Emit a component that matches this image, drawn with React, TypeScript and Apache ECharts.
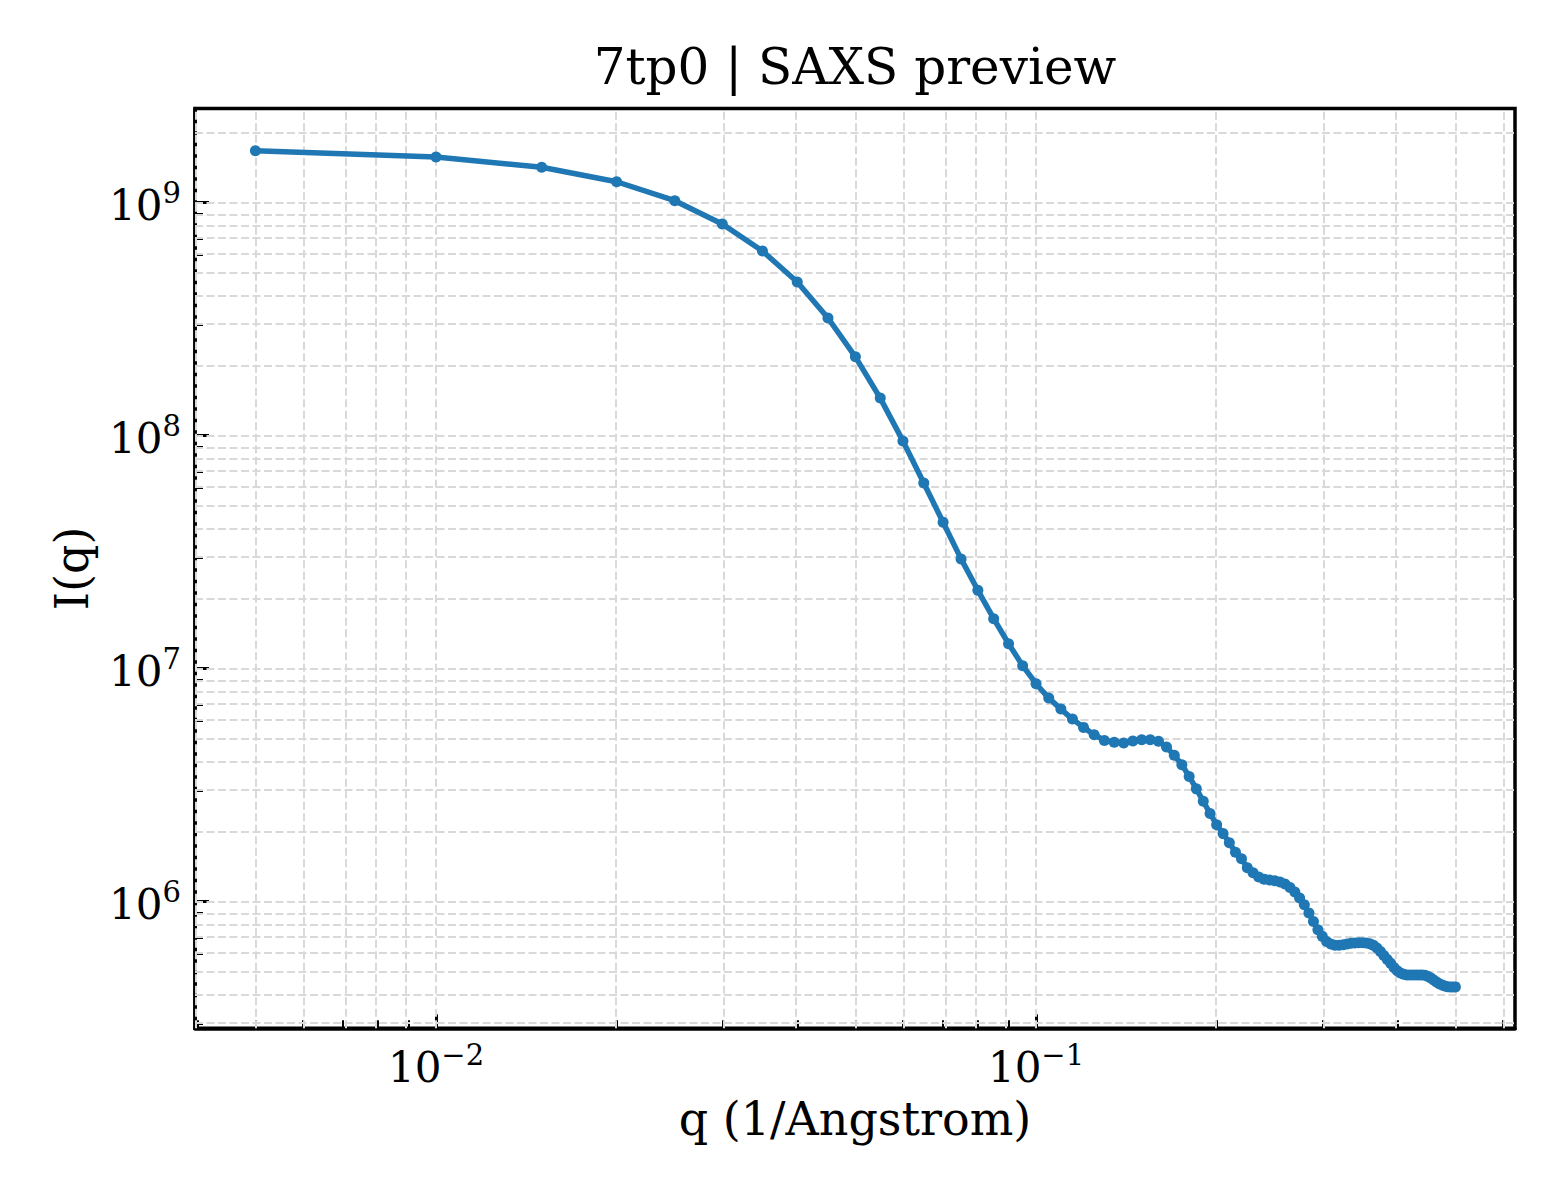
import { useEffect, useRef } from "react";
import * as echarts from "echarts";

// scattering vector q (1/Angstrom)
const qValues = [
  0.005, 0.01, 0.015, 0.02, 0.025, 0.03, 0.035, 0.04, 0.045, 0.05,
  0.055, 0.06, 0.065, 0.07, 0.075, 0.08, 0.085, 0.09, 0.095, 0.1,
  0.105, 0.11, 0.115, 0.12, 0.125, 0.13, 0.135, 0.14, 0.145, 0.15,
  0.155, 0.16, 0.165, 0.17, 0.175, 0.18, 0.185, 0.19, 0.195, 0.2,
  0.205, 0.21, 0.215, 0.22, 0.225, 0.23, 0.235, 0.24, 0.245, 0.25,
  0.255, 0.26, 0.265, 0.27, 0.275, 0.28, 0.285, 0.29, 0.295, 0.3,
  0.305, 0.31, 0.315, 0.32, 0.325, 0.33, 0.335, 0.34, 0.345, 0.35,
  0.355, 0.36, 0.365, 0.37, 0.375, 0.38, 0.385, 0.39, 0.395, 0.4,
  0.405, 0.41, 0.415, 0.42, 0.425, 0.43, 0.435, 0.44, 0.445, 0.45,
  0.455, 0.46, 0.465, 0.47, 0.475, 0.48, 0.485, 0.49, 0.495, 0.5,
];

// scattered intensity I(q)
const intensity = [
  1.67e9, 1.57e9, 1.42e9, 1.23e9, 1.02e9, 8.1e8, 6.2e8, 4.57e8, 3.2e8, 2.18e8,
  1.45e8, 9.5e7, 6.27e7, 4.25e7, 2.96e7, 2.17e7, 1.64e7, 1.28e7, 1.03e7, 8.62e6,
  7.48e6, 6.71e6, 6.08e6, 5.6e6, 5.21e6, 4.92e6, 4.83e6, 4.8e6, 4.89e6, 4.96e6,
  4.96e6, 4.88e6, 4.61e6, 4.25e6, 3.87e6, 3.45e6, 3.05e6, 2.7e6, 2.39e6, 2.14e6,
  1.96e6, 1.79e6, 1.63e6, 1.53e6, 1.4e6, 1.33e6, 1.276e6, 1.25e6, 1.239e6, 1.23e6,
  1.214e6, 1.19e6, 1.152e6, 1.1e6, 1.037e6, 9.71e5, 8.94e5, 8.23e5, 7.58e5, 7.1e5,
  6.75e5, 6.58e5, 6.5e5, 6.5e5, 6.54e5, 6.58e5, 6.63e5, 6.65e5, 6.67e5, 6.67e5,
  6.65e5, 6.6e5, 6.5e5, 6.33e5, 6.12e5, 5.88e5, 5.65e5, 5.44e5, 5.22e5, 5.06e5,
  4.94e5, 4.88e5, 4.85e5, 4.85e5, 4.85e5, 4.85e5, 4.85e5, 4.85e5, 4.83e5, 4.78e5,
  4.7e5, 4.61e5, 4.52e5, 4.45e5, 4.39e5, 4.35e5, 4.32e5, 4.31e5, 4.31e5, 4.31e5,
];

const xMajorTicks = [0.01, 0.1];
const xMinorTicks = [
  0.004, 0.005, 0.006, 0.007, 0.008, 0.009,
  0.02, 0.03, 0.04, 0.05, 0.06, 0.07, 0.08, 0.09,
  0.2, 0.3, 0.4, 0.5, 0.6,
];
const yMajorTicks = [1e6, 1e7, 1e8, 1e9];
const yMinorTicks = [
  3e5, 4e5, 5e5, 6e5, 7e5, 8e5, 9e5,
  2e6, 3e6, 4e6, 5e6, 6e6, 7e6, 8e6, 9e6,
  2e7, 3e7, 4e7, 5e7, 6e7, 7e7, 8e7, 9e7,
  2e8, 3e8, 4e8, 5e8, 6e8, 7e8, 8e8, 9e8,
  2e9,
];

// visible range, in log10 units
const xRange = [-2.4017, -0.2017];
const yRange = [5.4567, 9.4043];

const FONT = "DejaVu Serif";
const BLUE = "#1f77b4";

const lg = (v: number) => Math.log10(v);

const richLabel = {
  b: { fontSize: 42, fontFamily: FONT, color: "#000", lineHeight: 48, verticalAlign: "bottom" as const },
  s: { fontSize: 29, fontFamily: FONT, color: "#000", lineHeight: 32, verticalAlign: "top" as const },
};

const powerLabel = (v: number) => {
  const e = Math.round(v);
  return `{b|10}{s|${e < 0 ? "\u2212" + -e : e}}`;
};

function SaxsChart() {
  const chartRef = useRef<HTMLDivElement>(null);

  useEffect(() => {
    if (!chartRef.current) return;
    const chart = echarts.init(chartRef.current, undefined, { renderer: "svg" });

    const majorTick = (vals: number[]) => ({
      show: true,
      inside: true,
      length: 14,
      customValues: vals.map(lg),
      lineStyle: { color: "#000", width: 3 },
    });
    const minorTick = (vals: number[]) => ({
      show: true,
      inside: true,
      length: 8,
      customValues: vals.map(lg),
      lineStyle: { color: "#000", width: 2 },
    });

    const option: echarts.EChartsOption = {
      animation: false,
      backgroundColor: "#fff",
      title: {
        text: "7tp0 | SAXS preview",
        left: 855,
        top: 42,
        padding: 0,
        textAlign: "center",
        textStyle: { fontFamily: FONT, fontSize: 50, fontWeight: "normal", color: "#000", lineHeight: 50 },
      },
      grid: {
        left: 195,
        right: 45,
        top: 108.5,
        bottom: 171.7,
        show: true,
        borderColor: "#000",
        borderWidth: 3.5,
        backgroundColor: "transparent",
      },
      xAxis: [
        {
          type: "value",
          min: xRange[0],
          max: xRange[1],
          position: "bottom",
          axisLine: { show: true, lineStyle: { color: "#000", width: 3.5 } },
          axisTick: majorTick(xMajorTicks),
          axisLabel: {
            customValues: xMajorTicks.map(lg),
            formatter: powerLabel,
            margin: 12,
            rich: richLabel,
          },
          splitLine: { show: false },
          name: "q (1/Angstrom)",
          nameLocation: "middle",
          nameGap: 68,
          nameTextStyle: { fontFamily: FONT, fontSize: 46, color: "#000" },
        },
        {
          type: "value",
          min: xRange[0],
          max: xRange[1],
          position: "bottom",
          axisLine: { show: false },
          axisTick: minorTick(xMinorTicks),
          axisLabel: { show: false },
          splitLine: { show: false },
        },
      ],
      yAxis: [
        {
          type: "value",
          min: yRange[0],
          max: yRange[1],
          position: "left",
          axisLine: { show: true, lineStyle: { color: "#000", width: 3.5 } },
          axisTick: majorTick(yMajorTicks),
          axisLabel: {
            customValues: yMajorTicks.map(lg),
            formatter: powerLabel,
            margin: 14,
            rich: richLabel,
          },
          splitLine: { show: false },
          name: "I(q)",
          nameLocation: "middle",
          nameGap: 100,
          nameTextStyle: { fontFamily: FONT, fontSize: 46, color: "#000" },
        },
        {
          type: "value",
          min: yRange[0],
          max: yRange[1],
          position: "left",
          axisLine: { show: false },
          axisTick: minorTick(yMinorTicks),
          axisLabel: { show: false },
          splitLine: { show: false },
        },
      ],
      series: [
        {
          // dashed grid, major and minor, kept beneath the curve
          type: "line",
          data: [],
          z: 1,
          silent: true,
          markLine: {
            silent: true,
            z: 1,
            symbol: ["none", "none"],
            label: { show: false },
            animation: false,
            lineStyle: { color: "#d9d9d9", width: 2, type: [8, 3.5] },
            data: [
              ...[...xMajorTicks, ...xMinorTicks].map((v) => ({ xAxis: lg(v) })),
              ...[...yMajorTicks, ...yMinorTicks].map((v) => ({ yAxis: lg(v) })),
            ],
          },
        },
        {
          type: "line",
          z: 3,
          data: qValues.map((q, i) => [lg(q), lg(intensity[i])]),
          showSymbol: true,
          showAllSymbol: true,
          symbol: "circle",
          symbolSize: 11,
          lineStyle: { color: BLUE, width: 5.5 },
          itemStyle: { color: BLUE },
        },
      ],
    };

    chart.setOption(option);

    return () => {
      chart.dispose();
    };
  }, []);

  return (
    <div
      ref={chartRef}
      style={{ position: "fixed", left: 0, top: 0, width: 1560, height: 1200 }}
    />
  );
}

export default function App() {
  return <SaxsChart />;
}
